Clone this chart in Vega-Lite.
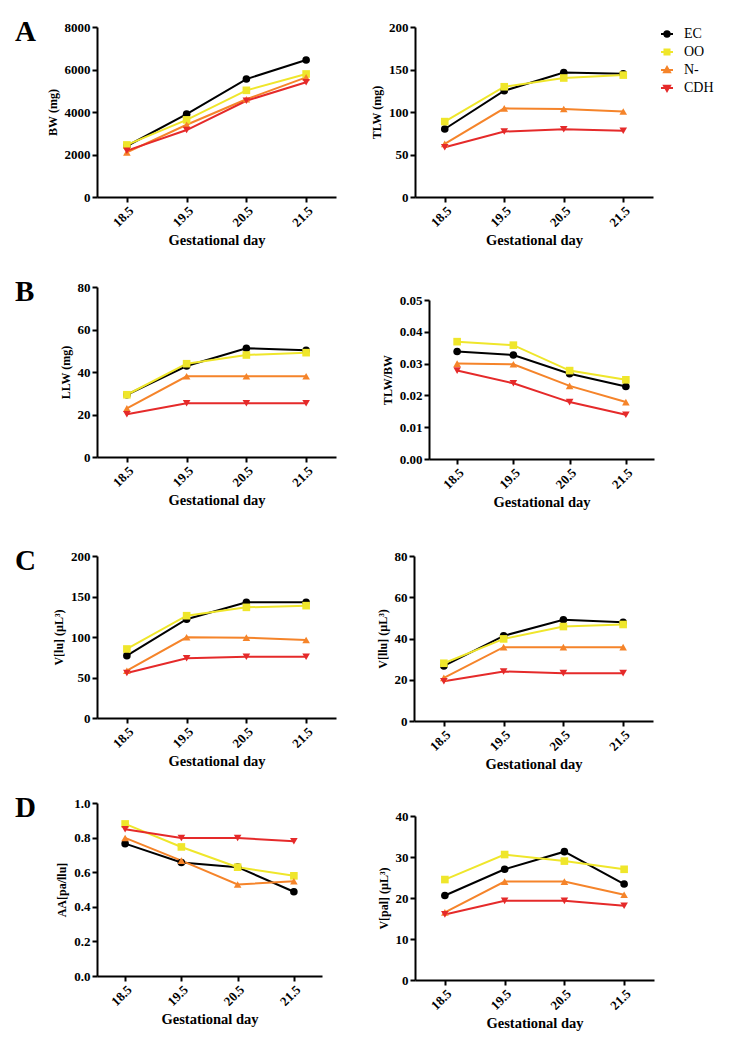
{
"$schema": "https://vega.github.io/schema/vega-lite/v6.json",
"padding": {"left": 15, "top": 18, "right": 5, "bottom": 5},
"data": {"values": [
{"p":"BW","g":"EC","d":"18.5","v":2400},{"p":"BW","g":"EC","d":"19.5","v":3900},{"p":"BW","g":"EC","d":"20.5","v":5550},{"p":"BW","g":"EC","d":"21.5","v":6450},
{"p":"BW","g":"OO","d":"18.5","v":2450},{"p":"BW","g":"OO","d":"19.5","v":3630},{"p":"BW","g":"OO","d":"20.5","v":5020},{"p":"BW","g":"OO","d":"21.5","v":5790},
{"p":"BW","g":"N-","d":"18.5","v":2100},{"p":"BW","g":"N-","d":"19.5","v":3400},{"p":"BW","g":"N-","d":"20.5","v":4600},{"p":"BW","g":"N-","d":"21.5","v":5630},
{"p":"BW","g":"CDH","d":"18.5","v":2180},{"p":"BW","g":"CDH","d":"19.5","v":3150},{"p":"BW","g":"CDH","d":"20.5","v":4530},{"p":"BW","g":"CDH","d":"21.5","v":5400},
{"p":"TLW","g":"EC","d":"18.5","v":80},{"p":"TLW","g":"EC","d":"19.5","v":125},{"p":"TLW","g":"EC","d":"20.5","v":146.5},{"p":"TLW","g":"EC","d":"21.5","v":145},
{"p":"TLW","g":"OO","d":"18.5","v":88.7},{"p":"TLW","g":"OO","d":"19.5","v":129.7},{"p":"TLW","g":"OO","d":"20.5","v":140},{"p":"TLW","g":"OO","d":"21.5","v":143.4},
{"p":"TLW","g":"N-","d":"18.5","v":62.5},{"p":"TLW","g":"N-","d":"19.5","v":104.3},{"p":"TLW","g":"N-","d":"20.5","v":103.5},{"p":"TLW","g":"N-","d":"21.5","v":100.5},
{"p":"TLW","g":"CDH","d":"18.5","v":58.6},{"p":"TLW","g":"CDH","d":"19.5","v":77},{"p":"TLW","g":"CDH","d":"20.5","v":79.7},{"p":"TLW","g":"CDH","d":"21.5","v":78},
{"p":"LLW","g":"EC","d":"18.5","v":29.3},{"p":"LLW","g":"EC","d":"19.5","v":42.8},{"p":"LLW","g":"EC","d":"20.5","v":51.2},{"p":"LLW","g":"EC","d":"21.5","v":50.2},
{"p":"LLW","g":"OO","d":"18.5","v":29.3},{"p":"LLW","g":"OO","d":"19.5","v":43.9},{"p":"LLW","g":"OO","d":"20.5","v":48},{"p":"LLW","g":"OO","d":"21.5","v":49.1},
{"p":"LLW","g":"N-","d":"18.5","v":22.9},{"p":"LLW","g":"N-","d":"19.5","v":38},{"p":"LLW","g":"N-","d":"20.5","v":38},{"p":"LLW","g":"N-","d":"21.5","v":38},
{"p":"LLW","g":"CDH","d":"18.5","v":20.1},{"p":"LLW","g":"CDH","d":"19.5","v":25.3},{"p":"LLW","g":"CDH","d":"20.5","v":25.3},{"p":"LLW","g":"CDH","d":"21.5","v":25.3},
{"p":"TB","g":"EC","d":"18.5","v":0.0338},{"p":"TB","g":"EC","d":"19.5","v":0.0327},{"p":"TB","g":"EC","d":"20.5","v":0.0268},{"p":"TB","g":"EC","d":"21.5","v":0.0228},
{"p":"TB","g":"OO","d":"18.5","v":0.0369},{"p":"TB","g":"OO","d":"19.5","v":0.0358},{"p":"TB","g":"OO","d":"20.5","v":0.0278},{"p":"TB","g":"OO","d":"21.5","v":0.0249},
{"p":"TB","g":"N-","d":"18.5","v":0.0300},{"p":"TB","g":"N-","d":"19.5","v":0.0298},{"p":"TB","g":"N-","d":"20.5","v":0.0230},{"p":"TB","g":"N-","d":"21.5","v":0.0179},
{"p":"TB","g":"CDH","d":"18.5","v":0.0278},{"p":"TB","g":"CDH","d":"19.5","v":0.0238},{"p":"TB","g":"CDH","d":"20.5","v":0.0179},{"p":"TB","g":"CDH","d":"21.5","v":0.0139},
{"p":"VLU","g":"EC","d":"18.5","v":77},{"p":"VLU","g":"EC","d":"19.5","v":122},{"p":"VLU","g":"EC","d":"20.5","v":142.8},{"p":"VLU","g":"EC","d":"21.5","v":142.8},
{"p":"VLU","g":"OO","d":"18.5","v":85.2},{"p":"VLU","g":"OO","d":"19.5","v":126.3},{"p":"VLU","g":"OO","d":"20.5","v":136.6},{"p":"VLU","g":"OO","d":"21.5","v":138.7},
{"p":"VLU","g":"N-","d":"18.5","v":58.4},{"p":"VLU","g":"N-","d":"19.5","v":99.6},{"p":"VLU","g":"N-","d":"20.5","v":99.2},{"p":"VLU","g":"N-","d":"21.5","v":96.3},
{"p":"VLU","g":"CDH","d":"18.5","v":55.6},{"p":"VLU","g":"CDH","d":"19.5","v":73.7},{"p":"VLU","g":"CDH","d":"20.5","v":75.7},{"p":"VLU","g":"CDH","d":"21.5","v":75.7},
{"p":"VLLU","g":"EC","d":"18.5","v":26.7},{"p":"VLLU","g":"EC","d":"19.5","v":41.3},{"p":"VLLU","g":"EC","d":"20.5","v":49.1},{"p":"VLLU","g":"EC","d":"21.5","v":47.9},
{"p":"VLLU","g":"OO","d":"18.5","v":28},{"p":"VLLU","g":"OO","d":"19.5","v":39.8},{"p":"VLLU","g":"OO","d":"20.5","v":45.8},{"p":"VLLU","g":"OO","d":"21.5","v":46.8},
{"p":"VLLU","g":"N-","d":"18.5","v":20.9},{"p":"VLLU","g":"N-","d":"19.5","v":35.8},{"p":"VLLU","g":"N-","d":"20.5","v":35.8},{"p":"VLLU","g":"N-","d":"21.5","v":35.8},
{"p":"VLLU","g":"CDH","d":"18.5","v":19.3},{"p":"VLLU","g":"CDH","d":"19.5","v":24},{"p":"VLLU","g":"CDH","d":"20.5","v":23.2},{"p":"VLLU","g":"CDH","d":"21.5","v":23.2},
{"p":"AA","g":"EC","d":"18.5","v":0.765},{"p":"AA","g":"EC","d":"19.5","v":0.656},{"p":"AA","g":"EC","d":"20.5","v":0.629},{"p":"AA","g":"EC","d":"21.5","v":0.487},
{"p":"AA","g":"OO","d":"18.5","v":0.879},{"p":"AA","g":"OO","d":"19.5","v":0.746},{"p":"AA","g":"OO","d":"20.5","v":0.629},{"p":"AA","g":"OO","d":"21.5","v":0.579},
{"p":"AA","g":"N-","d":"18.5","v":0.798},{"p":"AA","g":"N-","d":"19.5","v":0.667},{"p":"AA","g":"N-","d":"20.5","v":0.529},{"p":"AA","g":"N-","d":"21.5","v":0.548},
{"p":"AA","g":"CDH","d":"18.5","v":0.848},{"p":"AA","g":"CDH","d":"19.5","v":0.798},{"p":"AA","g":"CDH","d":"20.5","v":0.798},{"p":"AA","g":"CDH","d":"21.5","v":0.779},
{"p":"VPAL","g":"EC","d":"18.5","v":20.6},{"p":"VPAL","g":"EC","d":"19.5","v":27.0},{"p":"VPAL","g":"EC","d":"20.5","v":31.3},{"p":"VPAL","g":"EC","d":"21.5","v":23.4},
{"p":"VPAL","g":"OO","d":"18.5","v":24.5},{"p":"VPAL","g":"OO","d":"19.5","v":30.6},{"p":"VPAL","g":"OO","d":"20.5","v":29.0},{"p":"VPAL","g":"OO","d":"21.5","v":27.0},
{"p":"VPAL","g":"N-","d":"18.5","v":16.5},{"p":"VPAL","g":"N-","d":"19.5","v":24.0},{"p":"VPAL","g":"N-","d":"20.5","v":24.0},{"p":"VPAL","g":"N-","d":"21.5","v":20.8},
{"p":"VPAL","g":"CDH","d":"18.5","v":16.0},{"p":"VPAL","g":"CDH","d":"19.5","v":19.3},{"p":"VPAL","g":"CDH","d":"20.5","v":19.3},{"p":"VPAL","g":"CDH","d":"21.5","v":18.1}
]},
"resolve": {"scale": {"x": "independent", "y": "independent", "color": "shared"}},
"spacing": 31,
"vconcat": [
 {"hconcat": [
  {"width": 239, "height": 170, "title": {"text": "A"},
   "transform": [{"filter": "datum.p === 'BW'"}],
   "encoding": {
    "x": {"field": "d", "type": "ordinal", "scale": {"type": "point", "padding": 0.5}, "axis": {"title": "Gestational day"}},
    "y": {"field": "v", "type": "quantitative", "scale": {"domain": [0, 8000], "nice": false}, "axis": {"title": "BW (mg)", "values": [0, 2000, 4000, 6000, 8000], "format": "d"}},
    "color": {"field": "g", "type": "nominal", "scale": {"domain": ["EC", "OO", "N-", "CDH"], "range": ["#000000", "#efe62b", "#f5842a", "#e52a2a"]},
     "legend": {"title": null, "orient": "right", "offset": 6, "padding": 0, "symbolSize": 144, "symbolStrokeWidth": 2, "labelFont": "Liberation Serif", "labelFontSize": 14, "labelColor": "#000", "rowPadding": 4, "labelOffset": 10,
      "encode": {"symbols": {"update": {"shape": {"signal": "datum.value === 'EC' ? 'M-1,0H1M0.45,0A0.45,0.45,0,1,1,-0.45,0A0.45,0.45,0,1,1,0.45,0Z' : datum.value === 'OO' ? 'M-1,0H1M-0.42,-0.42H0.42V0.42H-0.42Z' : datum.value === 'N-' ? 'M-1,0H1M0,-0.5L0.5,0.38L-0.5,0.38Z' : 'M-1,0H1M0,0.5L0.5,-0.38L-0.5,-0.38Z'"}, "fill": {"scale": "color", "field": "value"}, "stroke": {"scale": "color", "field": "value"}, "strokeWidth": {"value": 2}, "size": {"value": 144}}}}}}
   },
   "layer": [
    {"mark": {"type": "line", "strokeWidth": 2}},
    {"transform": [{"filter": "datum.g === 'EC'"}], "mark": {"type": "point", "shape": "circle", "filled": true, "size": 58, "opacity": 1}},
    {"transform": [{"filter": "datum.g === 'OO'"}], "mark": {"type": "point", "shape": "square", "filled": true, "size": 58, "opacity": 1}},
    {"transform": [{"filter": "datum.g === 'N-'"}], "mark": {"type": "point", "shape": "triangle-up", "filled": true, "size": 58, "opacity": 1}},
    {"transform": [{"filter": "datum.g === 'CDH'"}], "mark": {"type": "point", "shape": "triangle-down", "filled": true, "size": 58, "opacity": 1}}
   ]},
  {"width": 238, "height": 170,
   "transform": [{"filter": "datum.p === 'TLW'"}],
   "encoding": {
    "x": {"field": "d", "type": "ordinal", "scale": {"type": "point", "padding": 0.5}, "axis": {"title": "Gestational day"}},
    "y": {"field": "v", "type": "quantitative", "scale": {"domain": [0, 200], "nice": false}, "axis": {"title": "TLW (mg)", "values": [0, 50, 100, 150, 200]}},
    "color": {"field": "g", "type": "nominal"}
   },
   "layer": [
    {"mark": {"type": "line", "strokeWidth": 2}},
    {"transform": [{"filter": "datum.g === 'EC'"}], "mark": {"type": "point", "shape": "circle", "filled": true, "size": 58, "opacity": 1}},
    {"transform": [{"filter": "datum.g === 'OO'"}], "mark": {"type": "point", "shape": "square", "filled": true, "size": 58, "opacity": 1}},
    {"transform": [{"filter": "datum.g === 'N-'"}], "mark": {"type": "point", "shape": "triangle-up", "filled": true, "size": 58, "opacity": 1}},
    {"transform": [{"filter": "datum.g === 'CDH'"}], "mark": {"type": "point", "shape": "triangle-down", "filled": true, "size": 58, "opacity": 1}}
   ]}
 ], "spacing": 34},
 {"spacing": 38, "resolve": {"scale": {"x": "independent", "y": "independent", "color": "shared"}},
  "vconcat": [
  {"hconcat": [
   {"width": 239, "height": 170, "title": {"text": "B"},
    "transform": [{"filter": "datum.p === 'LLW'"}],
    "encoding": {
     "x": {"field": "d", "type": "ordinal", "scale": {"type": "point", "padding": 0.5}, "axis": {"title": "Gestational day"}},
     "y": {"field": "v", "type": "quantitative", "scale": {"domain": [0, 80], "nice": false}, "axis": {"title": "LLW (mg)", "values": [0, 20, 40, 60, 80]}},
     "color": {"field": "g", "type": "nominal"}
    },
    "layer": [
     {"mark": {"type": "line", "strokeWidth": 2}},
     {"transform": [{"filter": "datum.g === 'EC'"}], "mark": {"type": "point", "shape": "circle", "filled": true, "size": 58, "opacity": 1}},
     {"transform": [{"filter": "datum.g === 'OO'"}], "mark": {"type": "point", "shape": "square", "filled": true, "size": 58, "opacity": 1}},
     {"transform": [{"filter": "datum.g === 'N-'"}], "mark": {"type": "point", "shape": "triangle-up", "filled": true, "size": 58, "opacity": 1}},
     {"transform": [{"filter": "datum.g === 'CDH'"}], "mark": {"type": "point", "shape": "triangle-down", "filled": true, "size": 58, "opacity": 1}}
    ]},
   {"width": 225, "height": 172,
    "transform": [{"filter": "datum.p === 'TB'"}],
    "encoding": {
     "x": {"field": "d", "type": "ordinal", "scale": {"type": "point", "padding": 0.5}, "axis": {"title": "Gestational day"}},
     "y": {"field": "v", "type": "quantitative", "scale": {"domain": [0, 0.05], "nice": false, "range": [172, 13]}, "axis": {"title": "TLW/BW", "values": [0, 0.01, 0.02, 0.03, 0.04, 0.05], "format": ".2f"}},
     "color": {"field": "g", "type": "nominal"}
    },
    "layer": [
     {"mark": {"type": "line", "strokeWidth": 2}},
     {"transform": [{"filter": "datum.g === 'EC'"}], "mark": {"type": "point", "shape": "circle", "filled": true, "size": 58, "opacity": 1}},
     {"transform": [{"filter": "datum.g === 'OO'"}], "mark": {"type": "point", "shape": "square", "filled": true, "size": 58, "opacity": 1}},
     {"transform": [{"filter": "datum.g === 'N-'"}], "mark": {"type": "point", "shape": "triangle-up", "filled": true, "size": 58, "opacity": 1}},
     {"transform": [{"filter": "datum.g === 'CDH'"}], "mark": {"type": "point", "shape": "triangle-down", "filled": true, "size": 58, "opacity": 1}}
    ]}
  ], "spacing": 45},
  {"spacing": 23, "resolve": {"scale": {"x": "independent", "y": "independent", "color": "shared"}},
   "vconcat": [
   {"hconcat": [
    {"width": 239, "height": 162, "title": {"text": "C"},
     "transform": [{"filter": "datum.p === 'VLU'"}],
     "encoding": {
      "x": {"field": "d", "type": "ordinal", "scale": {"type": "point", "padding": 0.5}, "axis": {"title": "Gestational day"}},
      "y": {"field": "v", "type": "quantitative", "scale": {"domain": [0, 200], "nice": false}, "axis": {"title": "V[lu] (µL³)", "values": [0, 50, 100, 150, 200]}},
      "color": {"field": "g", "type": "nominal"}
     },
     "layer": [
      {"mark": {"type": "line", "strokeWidth": 2}},
      {"transform": [{"filter": "datum.g === 'EC'"}], "mark": {"type": "point", "shape": "circle", "filled": true, "size": 58, "opacity": 1}},
      {"transform": [{"filter": "datum.g === 'OO'"}], "mark": {"type": "point", "shape": "square", "filled": true, "size": 58, "opacity": 1}},
      {"transform": [{"filter": "datum.g === 'N-'"}], "mark": {"type": "point", "shape": "triangle-up", "filled": true, "size": 58, "opacity": 1}},
      {"transform": [{"filter": "datum.g === 'CDH'"}], "mark": {"type": "point", "shape": "triangle-down", "filled": true, "size": 58, "opacity": 1}}
     ]},
    {"width": 239, "height": 165,
     "transform": [{"filter": "datum.p === 'VLLU'"}],
     "encoding": {
      "x": {"field": "d", "type": "ordinal", "scale": {"type": "point", "padding": 0.5}, "axis": {"title": "Gestational day"}},
      "y": {"field": "v", "type": "quantitative", "scale": {"domain": [0, 80], "nice": false}, "axis": {"title": "V[llu] (µL³)", "values": [0, 20, 40, 60, 80]}},
      "color": {"field": "g", "type": "nominal"}
     },
     "layer": [
      {"mark": {"type": "line", "strokeWidth": 2}},
      {"transform": [{"filter": "datum.g === 'EC'"}], "mark": {"type": "point", "shape": "circle", "filled": true, "size": 58, "opacity": 1}},
      {"transform": [{"filter": "datum.g === 'OO'"}], "mark": {"type": "point", "shape": "square", "filled": true, "size": 58, "opacity": 1}},
      {"transform": [{"filter": "datum.g === 'N-'"}], "mark": {"type": "point", "shape": "triangle-up", "filled": true, "size": 58, "opacity": 1}},
      {"transform": [{"filter": "datum.g === 'CDH'"}], "mark": {"type": "point", "shape": "triangle-down", "filled": true, "size": 58, "opacity": 1}}
     ]}
   ], "spacing": 40},
   {"hconcat": [
    {"width": 225, "height": 173, "title": {"text": "D"},
     "transform": [{"filter": "datum.p === 'AA'"}],
     "encoding": {
      "x": {"field": "d", "type": "ordinal", "scale": {"type": "point", "padding": 0.5}, "axis": {"title": "Gestational day"}},
      "y": {"field": "v", "type": "quantitative", "scale": {"domain": [0, 1], "nice": false}, "axis": {"title": "AA[pa/llu]", "values": [0, 0.2, 0.4, 0.6, 0.8, 1.0], "format": ".1f"}},
      "color": {"field": "g", "type": "nominal"}
     },
     "layer": [
      {"mark": {"type": "line", "strokeWidth": 2}},
      {"transform": [{"filter": "datum.g === 'EC'"}], "mark": {"type": "point", "shape": "circle", "filled": true, "size": 58, "opacity": 1}},
      {"transform": [{"filter": "datum.g === 'OO'"}], "mark": {"type": "point", "shape": "square", "filled": true, "size": 58, "opacity": 1}},
      {"transform": [{"filter": "datum.g === 'N-'"}], "mark": {"type": "point", "shape": "triangle-up", "filled": true, "size": 58, "opacity": 1}},
      {"transform": [{"filter": "datum.g === 'CDH'"}], "mark": {"type": "point", "shape": "triangle-down", "filled": true, "size": 58, "opacity": 1}}
     ]},
    {"width": 239, "height": 177,
     "transform": [{"filter": "datum.p === 'VPAL'"}],
     "encoding": {
      "x": {"field": "d", "type": "ordinal", "scale": {"type": "point", "padding": 0.5}, "axis": {"title": "Gestational day"}},
      "y": {"field": "v", "type": "quantitative", "scale": {"domain": [0, 40], "nice": false, "range": [177, 13]}, "axis": {"title": "V[pal] (µL³)", "values": [0, 10, 20, 30, 40]}},
      "color": {"field": "g", "type": "nominal"}
     },
     "layer": [
      {"mark": {"type": "line", "strokeWidth": 2}},
      {"transform": [{"filter": "datum.g === 'EC'"}], "mark": {"type": "point", "shape": "circle", "filled": true, "size": 58, "opacity": 1}},
      {"transform": [{"filter": "datum.g === 'OO'"}], "mark": {"type": "point", "shape": "square", "filled": true, "size": 58, "opacity": 1}},
      {"transform": [{"filter": "datum.g === 'N-'"}], "mark": {"type": "point", "shape": "triangle-up", "filled": true, "size": 58, "opacity": 1}},
      {"transform": [{"filter": "datum.g === 'CDH'"}], "mark": {"type": "point", "shape": "triangle-down", "filled": true, "size": 58, "opacity": 1}}
     ]}
   ], "spacing": 55}
  ]}
 ]}
],
"config": {
 "view": {"stroke": null},
 "font": "Liberation Serif",
 "title": {"font": "Liberation Serif", "fontSize": 29, "fontWeight": "bold", "color": "#000", "anchor": "start", "frame": "group", "offset": 0, "dx": -82, "dy": 30, "baseline": "top"},
 "axis": {"domainColor": "#000", "domainWidth": 2, "tickColor": "#000", "tickWidth": 2, "tickSize": 5, "labelFont": "Liberation Serif", "labelFontSize": 13, "labelFontWeight": "bold", "labelColor": "#000", "labelPadding": 2, "titleFont": "Liberation Serif", "titleFontSize": 12, "titleFontWeight": "bold", "titleColor": "#000", "titlePadding": 5, "grid": false},
 "axisX": {"labelAngle": -45, "titleFontSize": 14.5, "titlePadding": 4}
}
}
